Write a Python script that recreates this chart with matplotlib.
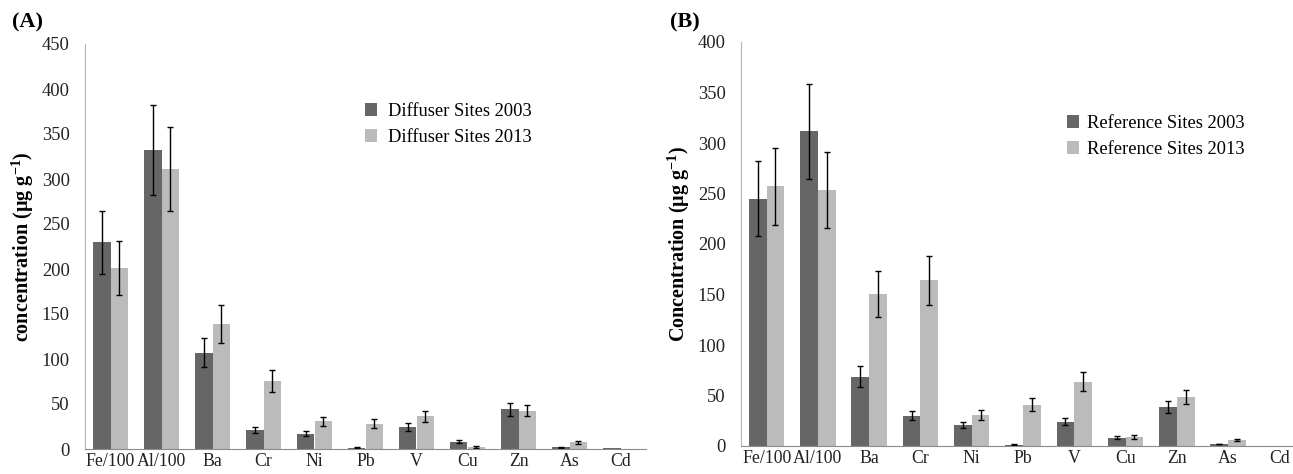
import matplotlib

matplotlib.use("Agg")
import matplotlib.pyplot as plt
import numpy as np

plt.rcParams["font.family"] = ["Liberation Serif", "DejaVu Serif"]
plt.rcParams["mathtext.fontset"] = "custom"
plt.rcParams["mathtext.rm"] = "Liberation Serif"
plt.rcParams["mathtext.bf"] = "Liberation Serif:bold"

elements = ["Fe/100", "Al/100", "Ba", "Cr", "Ni", "Pb", "V", "Cu", "Zn", "As", "Cd"]

# (A) diffuser sites
diff_2003 = [230, 332, 107, 21, 17, 1.5, 24.5, 8, 44, 1.9, 0.8]
diff_2003_err = [35, 50, 16, 3.5, 3, 0.5, 4, 1.5, 7, 0.5, np.nan]
diff_2013 = [201, 311, 138.5, 75.5, 31, 28, 36.5, 2.3, 42.5, 7.4, 0]
diff_2013_err = [30, 47, 21, 12, 5, 5, 6, 1, 6, 1.5, np.nan]

# (B) reference sites
ref_2003 = [245, 311.5, 68.5, 30, 21, 1.3, 24, 8.3, 38.5, 2, 0]
ref_2003_err = [37, 47, 10.5, 4.3, 3, 0.5, 3.6, 1.5, 6.3, 0.4, np.nan]
ref_2013 = [257, 253.5, 150.5, 164, 30.8, 40.8, 63.5, 8.9, 48.5, 6, 0]
ref_2013_err = [38.5, 38, 23, 24.5, 5.3, 6.3, 9.4, 2, 7.4, 1.3, np.nan]

dark = "#666666"
light = "#bbbbbb"
fs = 12.8
legend_fs = 13.3

fig = plt.figure(figsize=(12.93, 4.74), dpi=100)
ax_a = fig.add_axes([85 / 1293, 25 / 474, 561 / 1293, 405 / 474])
ax_b = fig.add_axes([741 / 1293, 28 / 474, 564 / 1293, 404 / 474])


def draw_panel(ax, v1, e1, v2, e2, ymax, ylabel, labels):
    x = np.arange(len(elements))
    w = 0.345
    err_kw = dict(ecolor="black", elinewidth=1.0, capsize=2.5, capthick=1.0)
    ax.bar(x - w / 2, v1, w, yerr=e1, color=dark, label=labels[0], error_kw=err_kw)
    ax.bar(x + w / 2, v2, w, yerr=e2, color=light, label=labels[1], error_kw=err_kw)
    ax.set_xlim(-0.5, len(elements) - 0.5)
    ax.set_ylim(0, ymax)
    ax.set_yticks(np.arange(0, ymax + 1, 50))
    ax.set_xticks(x)
    ax.set_xticklabels(elements, fontsize=fs)
    ax.tick_params(axis="y", length=0, pad=11, labelsize=13.3, labelcolor="#222222")
    ax.tick_params(axis="x", length=0, pad=3, labelsize=fs, labelcolor="#222222")
    for side in ["top", "right"]:
        ax.spines[side].set_visible(False)
    ax.spines["left"].set_color("#b5b5b5")
    ax.spines["bottom"].set_color("#8c8c8c")
    ax.set_ylabel(ylabel, fontsize=14.5, fontweight="bold", labelpad=4)


draw_panel(
    ax_a, diff_2003, diff_2003_err, diff_2013, diff_2013_err, 450,
    r"concentration (µg g$^{\mathbf{-1}}$)",
    ["Diffuser Sites 2003", "Diffuser Sites 2013"],
)
draw_panel(
    ax_b, ref_2003, ref_2003_err, ref_2013, ref_2013_err, 400,
    r"Concentration (µg g$^{\mathbf{-1}}$)",
    ["Reference Sites 2003", "Reference Sites 2013"],
)

ax_a.legend(
    loc="upper left", bbox_to_anchor=(273 / 561, 0.873), frameon=False,
    fontsize=legend_fs, handlelength=0.65, handleheight=0.65, handletextpad=0.6,
    labelspacing=0.5, borderaxespad=0,
)
ax_b.legend(
    loc="upper left", bbox_to_anchor=(319 / 564, 0.838), frameon=False,
    fontsize=legend_fs, handlelength=0.65, handleheight=0.65, handletextpad=0.4,
    labelspacing=0.5, borderaxespad=0,
)

fig.text(12 / 1293, 1 - 22 / 474, "(A)", fontsize=16, fontweight="bold", va="center")
fig.text(670 / 1293, 1 - 22 / 474, "(B)", fontsize=16, fontweight="bold", va="center")

fig.savefig("out.png", dpi=100)
